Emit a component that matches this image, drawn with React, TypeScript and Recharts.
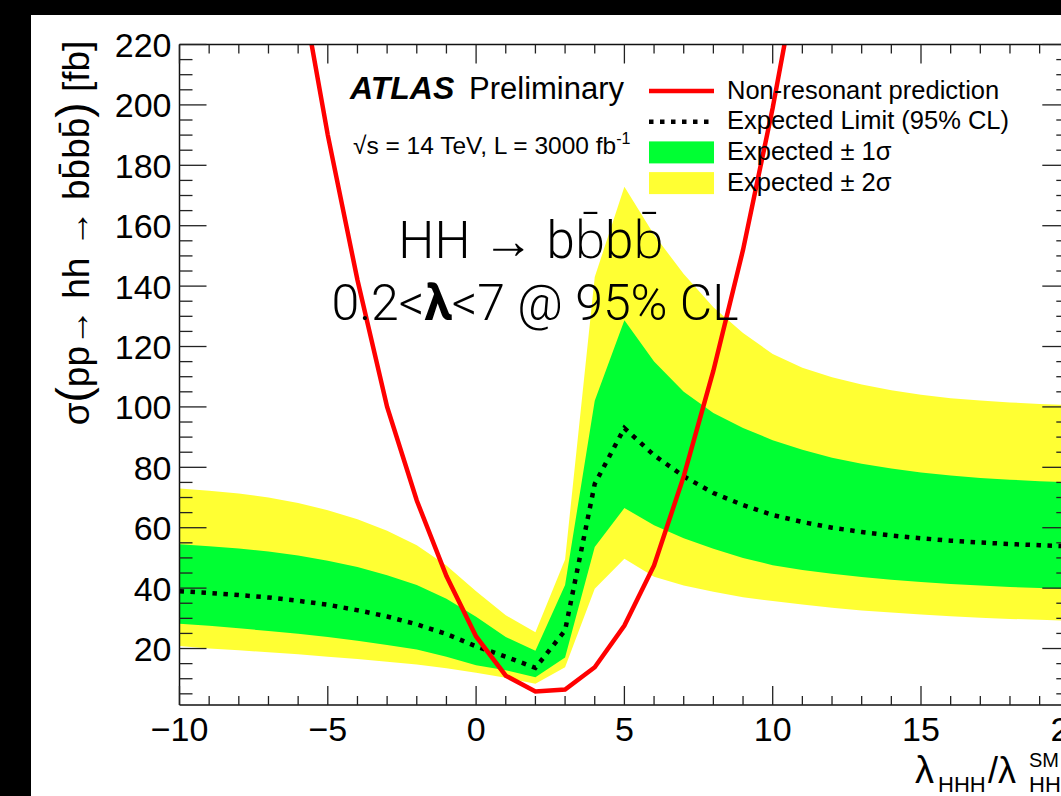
import React from 'react';
import { ComposedChart, Area, Line, XAxis, YAxis, Legend } from 'recharts';

// lambda_HHH / lambda_SM grid
const lambdaValues = [
  -10, -9, -8, -7, -6, -5, -4, -3, -2, -1, 0, 1, 2, 3, 4, 5,
  6, 7, 8, 9, 10, 11, 12, 13, 14, 15, 16, 17, 18, 19, 20,
];

// expected limit and bands [fb]
const sigma2Up = [
  73.0, 72.2, 71.3, 70.0, 68.2, 65.8, 62.8, 59.0, 54.2, 47.5, 39.0, 31.0, 25.4, 49.5, 143.0, 172.9,
  157.0, 144.0, 133.0, 124.5, 117.5, 113.0, 109.8, 107.4, 105.5, 104.0, 102.9, 102.1, 101.5, 101.0, 100.6,
];
const sigma1Up = [
  54.5, 53.9, 53.1, 52.1, 50.8, 49.1, 47.0, 44.3, 41.0, 36.5, 30.5, 23.8, 19.3, 41.0, 102.0, 128.7,
  115.0, 105.0, 98.0, 93.0, 89.0, 85.8, 83.2, 81.2, 79.6, 78.3, 77.3, 76.5, 75.9, 75.4, 75.0,
];
const expectedLimit = [
  39.0, 38.4, 37.7, 36.9, 35.8, 34.5, 32.7, 30.6, 28.0, 24.8, 20.7, 17.3, 13.6, 26.0, 74.5, 93.0,
  84.0, 77.0, 71.5, 67.5, 64.2, 61.9, 60.0, 58.6, 57.4, 56.5, 55.7, 55.1, 54.6, 54.2, 53.8,
];
const sigma1Down = [
  28.2, 27.5, 26.7, 25.8, 24.9, 23.8, 22.6, 21.2, 19.7, 17.3, 14.5, 12.8, 10.5, 17.0, 53.6, 66.5,
  60.8, 56.5, 53.0, 50.0, 47.6, 46.0, 44.8, 43.7, 42.8, 42.0, 41.4, 40.9, 40.4, 40.0, 39.7,
];
const sigma2Down = [
  20.8, 20.0, 19.4, 18.8, 18.1, 17.3, 16.5, 15.6, 14.7, 13.5, 12.0, 10.3, 8.3, 13.8, 39.8, 49.7,
  43.8, 40.9, 38.8, 37.0, 35.7, 34.6, 33.5, 32.6, 31.9, 31.3, 30.7, 30.2, 29.8, 29.5, 29.2,
];

// non-resonant prediction
const predictionLambda = [-6, -5, -4, -3, -2, -1, 0, 1, 2, 3, 4, 5, 6, 7, 8, 9, 10, 11];
const predictionXsec = [245, 190, 142, 100, 69, 44, 24, 11, 5.8, 6.4, 13.8, 27.6, 47.5, 77, 112, 152, 199, 252];

const xMajorTicks = [-10, -5, 0, 5, 10, 15, 20];
const yMajorTicks = [20, 40, 60, 80, 100, 120, 140, 160, 180, 200, 220];

const legendItems = [
  { label: 'Non-resonant prediction', kind: 'line', color: '#ff0000' },
  { label: 'Expected Limit (95% CL)', kind: 'dots', color: '#000000' },
  { label: 'Expected \u00b1 1\u03c3', kind: 'box', color: '#00ff33' },
  { label: 'Expected \u00b1 2\u03c3', kind: 'box', color: '#ffff33' },
];

const xAllTicks = Array.from({ length: 31 }, (_, i) => -10 + i);
const yAllTicks = Array.from({ length: 44 }, (_, i) => 5 + i * 5);

const chartData = lambdaValues.map((lam, i) => {
  const k = predictionLambda.indexOf(lam);
  return {
    lam,
    band2: [sigma2Down[i], sigma2Up[i]],
    band1: [sigma1Down[i], sigma1Up[i]],
    median: expectedLimit[i],
    pred: k >= 0 ? predictionXsec[k] : null,
  };
});

const FONT = "'Liberation Sans', Arial, Helvetica, sans-serif";
const LIGHT = "Roboto, 'Open Sans', sans-serif";
const TICK = '#222';

const fmt = (v: number) => (v < 0 ? `\u2212${Math.abs(v)}` : `${v}`);

const BottomTick = (props: any) => {
  const { x, y, payload } = props;
  const major = xMajorTicks.includes(payload.value);
  return (
    <g>
      <line x1={x} x2={x} y1={y} y2={y - (major ? 19 : 9)} stroke={TICK} strokeWidth={1.3} />
      {major && (
        <text x={x} y={y + 36} textAnchor="middle" fontSize={34} fontFamily={FONT} fill="#000">
          {fmt(payload.value)}
        </text>
      )}
    </g>
  );
};

const TopTick = (props: any) => {
  const { x, y, payload } = props;
  const major = xMajorTicks.includes(payload.value);
  return <line x1={x} x2={x} y1={y} y2={y + (major ? 19 : 9)} stroke={TICK} strokeWidth={1.3} />;
};

const LeftTick = (props: any) => {
  const { x, y, payload } = props;
  const major = yMajorTicks.includes(payload.value);
  return (
    <g>
      <line x1={x} x2={x + (major ? 27 : 13)} y1={y} y2={y} stroke={TICK} strokeWidth={1.3} />
      {major && (
        <text x={x - 8} y={y + 12.5} textAnchor="end" fontSize={34} fontFamily={FONT} fill="#000">
          {payload.value}
        </text>
      )}
    </g>
  );
};

const RightTick = (props: any) => {
  const { x, y, payload } = props;
  const major = yMajorTicks.includes(payload.value);
  return <line x1={x} x2={x - (major ? 27 : 13)} y1={y} y2={y} stroke={TICK} strokeWidth={1.3} />;
};

const LegendBox = () => (
  <svg width={400} height={130} style={{ display: 'block' }}>
    {legendItems.map((item, i) => {
      const cy = 21 + i * 30.7;
      return (
        <g key={item.label}>
          {item.kind === 'line' && (
            <line x1={9} x2={74} y1={cy} y2={cy} stroke={item.color} strokeWidth={4.5} />
          )}
          {item.kind === 'dots' && (
            <line x1={9} x2={74} y1={cy} y2={cy} stroke={item.color} strokeWidth={4.5} strokeDasharray="4.5 6.5" />
          )}
          {item.kind === 'box' && <rect x={9} y={cy - 11} width={65} height={22} fill={item.color} />}
          <text x={87} y={cy + 7.5} fontSize={25.5} fontFamily={FONT} fill="#000">
            {item.label}
          </text>
        </g>
      );
    })}
  </svg>
);

const axisStroke = { stroke: '#111', strokeWidth: 1.5 };

export default function App() {
  return (
    <div style={{ position: 'fixed', left: 0, top: 0, width: 1061, height: 796, background: '#000', overflow: 'hidden' }}>
      <div style={{ position: 'absolute', left: 31, top: 15, width: 1030, height: 781, background: '#fff' }} />
      <div style={{ position: 'absolute', left: 0, top: 0 }}>
        <ComposedChart
          width={1120}
          height={796}
          data={chartData}
          margin={{ top: 43.5, left: 178.5, right: 49.7, bottom: 90 }}
        >
          <XAxis
            dataKey="lam"
            type="number"
            domain={[-10, 20]}
            allowDataOverflow
            ticks={xAllTicks}
            interval={0}
            height={1}
            tickSize={0}
            tickMargin={0}
            tickLine={false}
            axisLine={axisStroke}
            tick={BottomTick}
          />
          <XAxis
            xAxisId="top"
            orientation="top"
            dataKey="lam"
            type="number"
            domain={[-10, 20]}
            allowDataOverflow
            ticks={xAllTicks}
            interval={0}
            height={1}
            tickSize={0}
            tickMargin={0}
            tickLine={false}
            axisLine={axisStroke}
            tick={TopTick}
          />
          <YAxis
            type="number"
            domain={[1.3, 220]}
            allowDataOverflow
            ticks={yAllTicks}
            interval={0}
            width={1}
            tickSize={0}
            tickMargin={0}
            tickLine={false}
            axisLine={axisStroke}
            tick={LeftTick}
          />
          <YAxis
            yAxisId="right"
            orientation="right"
            type="number"
            domain={[1.3, 220]}
            allowDataOverflow
            ticks={yAllTicks}
            interval={0}
            width={1}
            tickSize={0}
            tickMargin={0}
            tickLine={false}
            axisLine={axisStroke}
            tick={RightTick}
          />
          <Area
            type="linear"
            dataKey="band2"
            stroke="none"
            fill="#ffff33"
            fillOpacity={1}
            isAnimationActive={false}
          />
          <Area
            type="linear"
            dataKey="band1"
            stroke="none"
            fill="#00ff33"
            fillOpacity={1}
            isAnimationActive={false}
          />
          <Line
            type="linear"
            dataKey="median"
            stroke="#000"
            strokeWidth={4.5}
            strokeDasharray="4.5 6.5"
            dot={false}
            isAnimationActive={false}
          />
          <Line
            type="linear"
            dataKey="pred"
            stroke="#ff0000"
            strokeWidth={4.5}
            dot={false}
            isAnimationActive={false}
          />
          <Legend
            layout="vertical"
            align="center"
            verticalAlign="middle"
            wrapperStyle={{ left: 640, top: 70, width: 400 }}
            content={() => <LegendBox />}
          />
        </ComposedChart>
      </div>
      <svg
        width={1061}
        height={796}
        style={{ position: 'absolute', left: 0, top: 0, pointerEvents: 'none' }}
      >
        <text x={350} y={99} fontSize={32} fontWeight="bold" fontStyle="italic" fontFamily={FONT}>
          ATLAS
        </text>
        <text x={469} y={99} fontSize={31} fontFamily={FONT}>
          Preliminary
        </text>
        <text x={353} y={154} fontSize={24.5} fontFamily={FONT}>
          {'\u221as = 14 TeV, L = 3000 fb'}
          <tspan fontSize={16} dy={-10}>-1</tspan>
        </text>
        <text x={531} y={258} textAnchor="middle" fontSize={51} fontWeight={300} fontFamily={LIGHT}>
          {'HH \u2192 bb\u0304bb\u0304'}
        </text>
        <text x={535} y={320} textAnchor="middle" fontSize={50} fontWeight={300} fontFamily={LIGHT}>
          0.2&lt;<tspan fontWeight="bold">{'\u03bb'}</tspan>&lt;7 @ 95% CL
        </text>
        <text transform="translate(89,233) rotate(-90)" textAnchor="middle" fontSize={37} fontFamily={FONT}>
          {'\u03c3'}
          <tspan fontSize={46}>(</tspan>
          {'pp\u2192 hh \u2192 bb\u0304bb\u0304'}
          <tspan fontSize={46}>)</tspan>
          {' [fb]'}
        </text>
        <text x={915} y={783} fontSize={38} fontFamily={FONT}>{'\u03bb'}</text>
        <text x={938} y={792} fontSize={22} fontFamily={FONT}>HHH</text>
        <text x={988} y={783} fontSize={36} fontFamily={FONT}>{'/\u03bb'}</text>
        <text x={1029} y={767} fontSize={20} fontFamily={FONT}>SM</text>
        <text x={1029} y={792} fontSize={22} fontFamily={FONT}>HHH</text>
      </svg>
    </div>
  );
}
